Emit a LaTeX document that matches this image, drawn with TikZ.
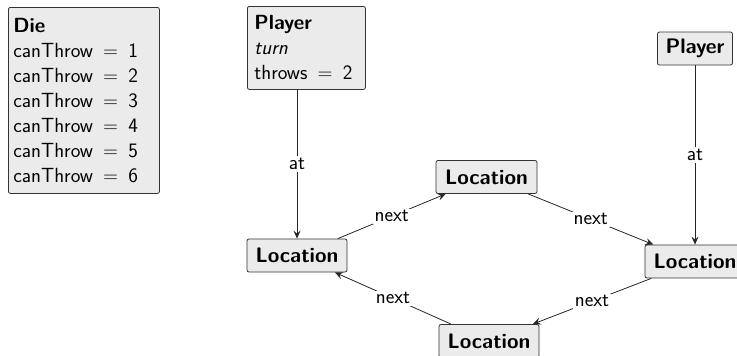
\documentclass[tikz,border=0pt]{standalone}
\usetikzlibrary{arrows.meta}

\begin{document}
\begin{tikzpicture}[x=1pt, y=-1pt,
    obj/.style = {draw=black!80, fill=black!8, rounded corners=2pt, line width=0.8pt,
                  font=\sffamily\fontsize{20.5}{25}\selectfont},
    loc/.style = {obj, font=\sffamily\bfseries\fontsize{21}{25}\selectfont,
                  minimum height=33pt, inner xsep=4pt},
    lbl/.style = {fill=white, inner sep=2pt, font=\sffamily\fontsize{20.5}{25}\selectfont},
    link/.style = {-{Stealth[length=8pt,width=7pt,inset=3pt]}, line width=0.8pt, draw=black!85}]
                \useasboundingbox (0,0) rectangle (737,356);
                \node[obj, anchor=north west, align=left, text width=141pt,
                      minimum height=186pt, inner xsep=5pt] (1) at (8,7)
                      {\textbf{Die}\\canThrow \,=\, 1\\canThrow \,=\, 2\\canThrow \,=\, 3\\canThrow \,=\, 4\\canThrow \,=\, 5\\canThrow \,=\, 6};
                \node[obj, anchor=north west, align=left, text width=104pt,
                      minimum height=83pt, inner xsep=7pt] (2) at (247,6)
                      {\textbf{Player}\\\textit{turn}\\throws \,=\, 2};
                \node[loc, minimum width=100pt] (3) at (297,255.5) {Location};
                \node[loc, minimum width=101pt] (4) at (486.5,177) {Location};
                \node[loc, minimum width=100pt] (5) at (695,261.5) {Location};
                \node[loc, minimum width=100pt] (6) at (489,341) {Location};
                \node[loc, minimum width=75pt] (7) at (695,48.5) {Player};
                \draw[link] (2.south -| 3) -- node[lbl] {at} (3);
                \draw[link] (7) -- node[lbl] {at} (5);
                \draw[link] (3) -- node[lbl] {next} (4);
                \draw[link] (4) -- node[lbl] {next} (5);
                \draw[link] (5) -- node[lbl] {next} (6);
                \draw[link] (6) -- node[lbl] {next} (3);
            \end{tikzpicture}
\end{document}
